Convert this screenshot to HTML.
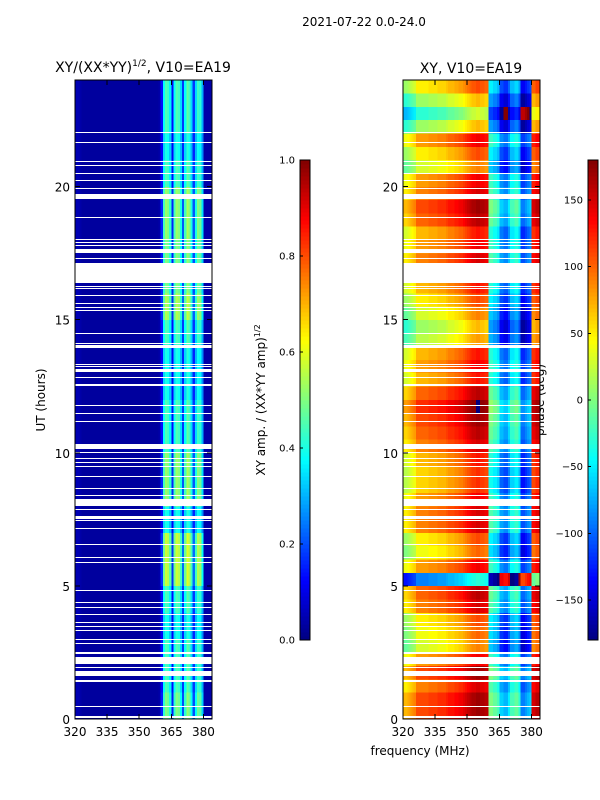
<!DOCTYPE html>
<html><head><meta charset="utf-8">
<style>
body{margin:0;background:#fff;}
svg{display:block;font-family:"DejaVu Sans","Liberation Sans",sans-serif;}
</style></head>
<body>
<svg id="chart" width="600" height="800" viewBox="0 0 600 800" xmlns="http://www.w3.org/2000/svg" shape-rendering="crispEdges">
<rect width="600" height="800" fill="#fff"/>
<text x="364" y="26" font-size="12" text-anchor="middle">2021-07-22 0.0-24.0</text>
<text x="143" y="72" font-size="14" text-anchor="middle">XY/(XX*YY)<tspan font-size="9" dy="-6">1/2</tspan><tspan dy="6">, V10=EA19</tspan></text>
<text x="471" y="73" font-size="14" text-anchor="middle">XY, V10=EA19</text>
<text transform="translate(45,400) rotate(-90)" font-size="12" text-anchor="middle">UT (hours)</text>
<text transform="translate(265,400) rotate(-90)" font-size="12" text-anchor="middle">XY amp. / (XX*YY amp)<tspan font-size="8" dy="-5">1/2</tspan></text>
<text transform="translate(544,400) rotate(-90)" font-size="12" text-anchor="middle">phase (deg)</text>
<text x="420" y="755" font-size="12" text-anchor="middle">frequency (MHz)</text>
<g id="layer"></g>
</svg>
<script>
const channels = [];
for (let i = 0; i < 64; i++) channels.push(320 + i);
const ampBase = [0.05,0.05,0.04,0.03,0.03,0.03,0.03,0.03,0.03,0.03,0.03,0.03,0.03,0.03,0.03,0.03,0.03,0.03,0.03,0.03,0.03,0.03,0.03,0.03,0.03,0.03,0.03,0.03,0.03,0.03,0.03,0.03,0.03,0.03,0.03,0.03,0.03,0.03,0.03,0.04,
  0.15,0.42,0.5,0.48,0.4,0.15,0.42,0.5,0.48,0.38,0.2,0.42,0.52,0.48,0.38,0.2,0.38,0.48,0.46,0.33,0.04,0.04,0.04,0.04];
const hourAmp = [1.0,0.9,0.9,0.8,0.9,1.15,1.15,0.8,1.05,1.05,0.9,0.9,0.8,0.8,0.9,1.1,1.0,1.0,1.05,1.05,0.9,0.8,0.9,0.9];
const phaseBase = [70,70,75,80,85,90,110,110,110,110,110,110,115,115,115,115,120,120,120,120,125,130,130,130,135,135,140,140,145,150,155,160,165,165,170,170,165,165,160,160,
  0,0,-10,-10,-20,-60,-60,-70,-70,-50,-20,-20,-10,-10,-30,-90,-90,-80,-70,-60,150,150,160,160];
const halfHourPhase = [0,0,-20,0,-30,-80,-70,-60,-20,-10,-200,-30,-70,-60,-20,-20,-30,-50,-50,-40,-20,-10,0,10,-10,-40,-30,-40,-90,-100,-80,-60,-40,0,-20,-30,-40,-10,0,-20,-30,-80,-60,-30,-100,-140,-100,-60];
const flagged = [[22.0,22.04],[21.65,21.69],[20.9,20.94],[20.75,20.79],[20.45,20.49],[20.19,20.23],[19.92,19.96],[19.53,19.70],[18.8,18.84],[17.97,18.01],[17.86,17.9],[17.75,17.79],[17.5,17.65],[17.29,17.33],[16.38,17.13],[16.21,16.25],[16.13,16.17],[15.9,15.94],[15.57,15.61],[15.45,15.49],[15.34,15.38],[14.44,14.48],[14.1,14.14],[13.93,14.05],[13.31,13.35],[13.2,13.24],[13.03,13.15],[12.79,12.83],[12.56,12.6],[12.49,12.53],
  [11.77,11.81],[11.44,11.48],[11.17,11.21],[10.14,10.33],[9.97,10.01],[9.78,9.82],[9.63,9.67],[9.48,9.52],[9.07,9.11],[8.62,8.66],[8.39,8.43],[8.0,8.26],[7.83,7.87],[7.51,7.62],[7.42,7.46],[7.12,7.16],[6.55,6.59],[6.06,6.1],[5.84,5.88],[4.79,4.83],[4.34,4.38],[4.15,4.19],[3.89,3.93],[3.62,3.66],[3.44,3.48],[3.29,3.33],[2.98,3.02],[2.83,2.87],[2.44,2.52],[2.07,2.33],[1.9,1.94],[1.62,1.8],[1.44,1.48],[1.37,1.41],[0.43,0.47],[0.04,0.11]];
const yTicks = [0,5,10,15,20];
const xTicks = [320,335,350,365,380];
const ampTicks = [0.0,0.2,0.4,0.6,0.8,1.0];
const phaseTicks = [-150,-100,-50,0,50,100,150];

const NS = 'http://www.w3.org/2000/svg';
const layer = document.getElementById('layer');
function jet(v){
  v = Math.max(0, Math.min(1, v));
  const r = Math.max(0, Math.min(1, 1.5 - Math.abs(4*v - 3)));
  const g = Math.max(0, Math.min(1, 1.5 - Math.abs(4*v - 2)));
  const b = Math.max(0, Math.min(1, 1.5 - Math.abs(4*v - 1)));
  return 'rgb(' + Math.round(r*255) + ',' + Math.round(g*255) + ',' + Math.round(b*255) + ')';
}
function wrap(p){ return ((p + 180) % 360 + 360) % 360 - 180; }
function mk(tag, attrs){
  const e = document.createElementNS(NS, tag);
  for (const k in attrs) e.setAttribute(k, attrs[k]);
  return e;
}
const PW = 137, Y0 = 80, YB = 719;
function xs(x0, f){ return x0 + (f - 320) * PW / 64; }
function ys(h){ return YB - h * (YB - Y0) / 24; }

function panel(x0, kind){
  const g = mk('g', {});
  
  
  for (let hb = 0; hb < 48; hb++) {
    const h0 = hb * 0.5, h1 = h0 + 0.5;
    for (let c = 0; c < channels.length; c++) {
      let col;
      if (kind === 'amp') {
        let a = ampBase[c];
        if (a > 0.1) a = a * hourAmp[Math.floor(h0)];
        col = jet(a);
      } else {
        const w = c < 40 ? 1 : 0.8;
        col = jet((wrap(phaseBase[c] + w * halfHourPhase[hb]) + 180) / 360);
      }
      const x1 = xs(x0, channels[c]), x2 = xs(x0, channels[c] + 1);
      const r = mk('rect', {x: x1.toFixed(2), y: ys(h1).toFixed(2), width: (x2 - x1 + 0.3).toFixed(2), height: (ys(h0) - ys(h1) + 0.3).toFixed(2), fill: col});
      
      
      g.appendChild(r);
    }
  }
  flagged.forEach(fr => {
    const y = Math.round(ys(fr[1]));
    const hgt = Math.max(1, Math.round(ys(fr[0]) - ys(fr[1])));
    const r = mk('rect', {x: x0, y: y, width: PW, height: hgt, fill: '#fff'});
    
    
    g.appendChild(r);
  });
  layer.appendChild(g);
  const fr = mk('rect', {x: x0, y: Y0, width: PW, height: YB - Y0, fill: 'none', stroke: '#000', 'stroke-width': 1});
  
  
  layer.appendChild(fr);
  yTicks.forEach(t => {
    const y = ys(t);
    const l1 = mk('line', {x1: x0, x2: x0 + 5, y1: y, y2: y, stroke: '#000'});
    
    
    layer.appendChild(l1);
    const l2 = mk('line', {x1: x0 + PW - 5, x2: x0 + PW, y1: y, y2: y, stroke: '#000'});
    
    
    layer.appendChild(l2);
    const tx = mk('text', {x: x0 - 5, y: y + 5, 'font-size': 12, 'text-anchor': 'end'});
    tx.textContent = t;
    
    
    layer.appendChild(tx);
  });
  xTicks.forEach(t => {
    const x = xs(x0, t);
    const l1 = mk('line', {x1: x, x2: x, y1: YB, y2: YB - 5, stroke: '#000'});
    
    
    layer.appendChild(l1);
    const l2 = mk('line', {x1: x, x2: x, y1: Y0, y2: Y0 + 5, stroke: '#000'});
    
    
    layer.appendChild(l2);
    const tx = mk('text', {x: x, y: YB + 17, 'font-size': 12, 'text-anchor': 'middle'});
    tx.textContent = t;
    
    
    layer.appendChild(tx);
  });
}
panel(75, 'amp');
panel(403, 'phase');

function colorbar(x0, vmin, vmax, ticks, kind){
  const top = 160, bot = 640, n = 120;
  const g = mk('g', {});
  
  
  for (let i = 0; i < n; i++) {
    const y1 = bot - (i + 1) * (bot - top) / n;
    const r = mk('rect', {x: x0, y: y1.toFixed(2), width: 10, height: ((bot - top) / n + 0.3).toFixed(2), fill: jet((i + 0.5) / n)});
    
    
    g.appendChild(r);
  }
  const fr = mk('rect', {x: x0, y: top, width: 10, height: bot - top, fill: 'none', stroke: '#000'});
  
  
  g.appendChild(fr);
  ticks.forEach(t => {
    const y = bot - (t - vmin) / (vmax - vmin) * (bot - top);
    const l = mk('line', {x1: x0, x2: x0 + 3, y1: y, y2: y, stroke: '#000'});
    
    
    g.appendChild(l);
    const tx = mk('text', {x: x0 - 5, y: y + 3.5, 'font-size': 10, 'text-anchor': 'end'});
    tx.textContent = kind === 'amp' ? t.toFixed(1) : (t < 0 ? '\u2212' + Math.abs(t) : t);
    
    
    g.appendChild(tx);
  });
  layer.appendChild(g);
}
colorbar(300, 0, 1, ampTicks, 'amp');
colorbar(588, -180, 180, phaseTicks, 'phase');
</script>
</body></html>
